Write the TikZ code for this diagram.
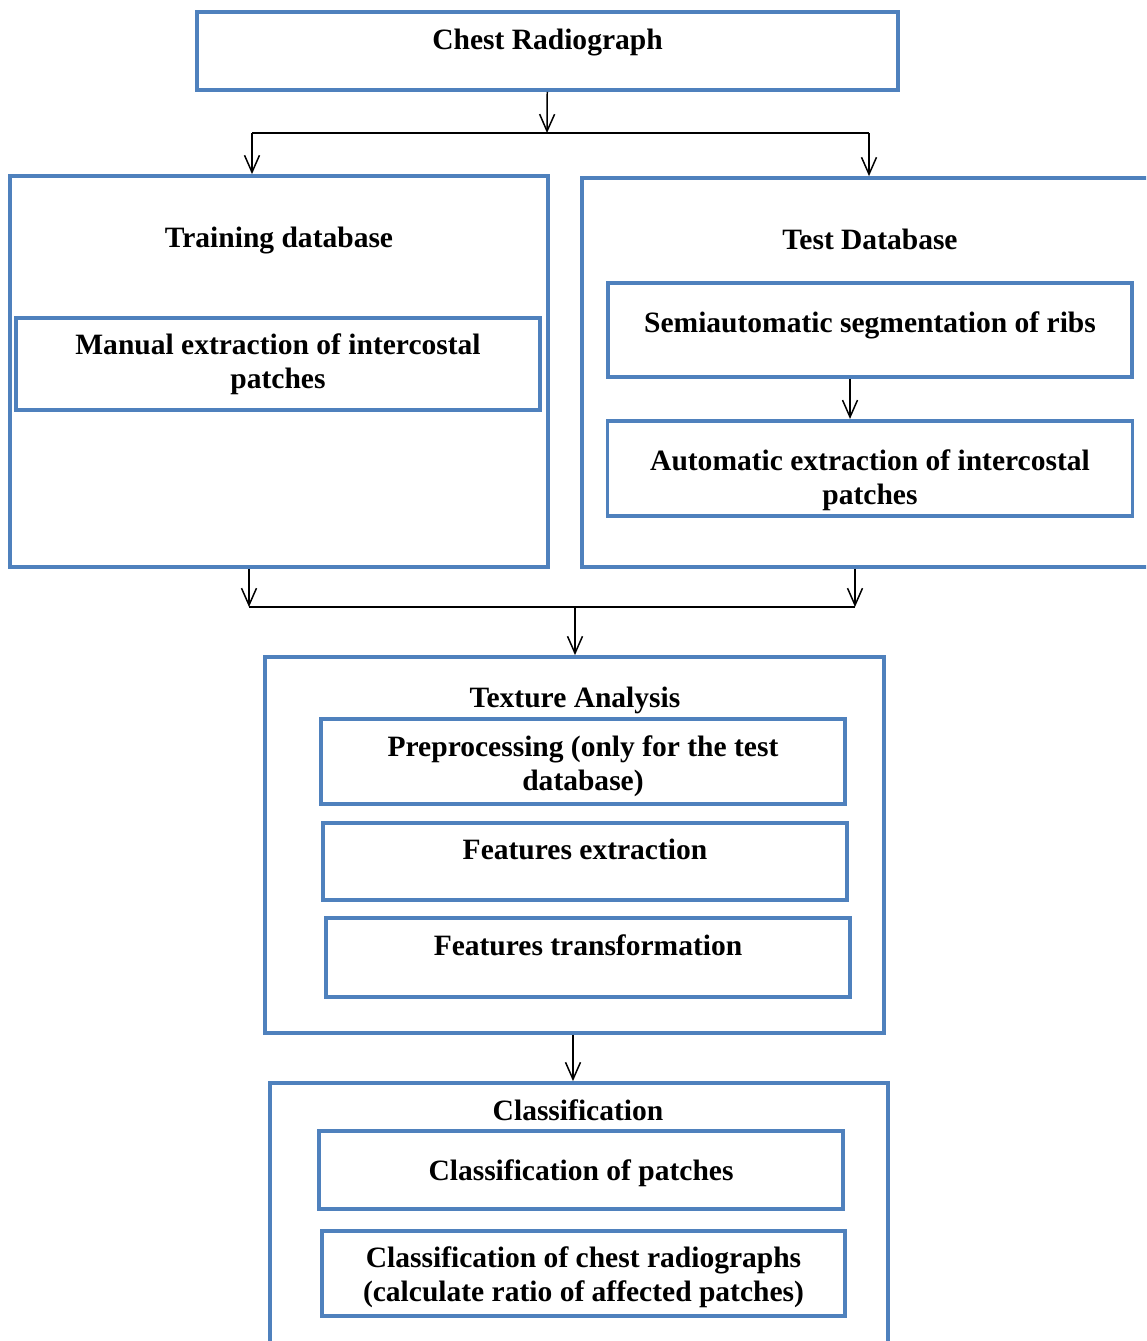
\documentclass[tikz,border=0pt]{standalone}
\usepackage{fontspec}
\setmainfont{Liberation Serif}
\usetikzlibrary{arrows.meta,positioning}
\definecolor{boxblue}{RGB}{79,129,189}

\begin{document}
\begin{tikzpicture}[
  x=0.02cm, y=-0.02cm,
  font=\bfseries\fontsize{16.8}{19.3}\selectfont,
  frame/.style={draw=boxblue, line width=2.2pt, inner sep=0pt},
  box/.style={draw=boxblue, line width=2.2pt, align=center, inner sep=0pt, minimum width=10.48cm},
  lift/.style={text height=11.5pt, text depth=#1},
  drop/.style={text height=#1},
  title/.style={inner sep=0pt},
  arr/.style={-{Straight Barb[length=0.34cm,width=0.3cm]}, line width=0.85pt},
  link/.style={line width=0.85pt}
]
\useasboundingbox (0,0) rectangle (1146,1341);
\clip (0,0) rectangle (1146,1341);

\node[box, minimum width=14.02cm, minimum height=1.56cm, lift=13.5pt] (chest) at (547.5,51) {Chest Radiograph};

\node[frame, minimum width=10.76cm, minimum height=7.82cm] (train) at (279,371.5) {};
\node[title] (traintitle) at (279,241) {Training database};
\node[box, minimum height=1.84cm] (manual) at (278,364) {Manual extraction of intercostal\\patches};

\node[frame, minimum width=11.56cm, minimum height=7.78cm] (test) at (871,372.5) {};
\node[title] (testtitle) at (870,239) {Test Database};
\node[box, minimum height=1.88cm, lift=9pt] (semi) at (870,330) {Semiautomatic segmentation of ribs};
\node[box, minimum width=10.5cm, minimum height=1.9cm, drop=45pt, below=0.8cm of semi] (auto) {Automatic extraction of intercostal\\patches};

\node[frame, minimum width=12.38cm, minimum height=7.52cm] (texture) at (574.5,845) {};
\node[title] (texturetitle) at (575,700) {Texture Analysis};
\node[box, minimum height=1.7cm, drop=36.4pt] (prep) at (583,761.5) {Preprocessing (only for the test\\database)};
\node[box, minimum height=1.54cm, lift=13.5pt, below=0.30cm of prep, xshift=0.04cm] (featex) {Features extraction};
\node[box, minimum height=1.58cm, lift=13.5pt, below=0.28cm of featex, xshift=0.06cm] (feattr) {Features transformation};

\node[frame, minimum width=12.36cm, minimum height=5.54cm] (class) at (579,1221.5) {};
\node[title] (classtitle) at (578,1110) {Classification};
\node[box, minimum height=1.56cm, drop=16pt] (clspatch) at (581,1170) {Classification of patches};
\node[box, minimum width=10.46cm, minimum height=1.7cm, drop=35.9pt, below=0.36cm of clspatch, xshift=0.05cm] (clschest) {Classification of chest radiographs\\(calculate ratio of affected patches)};

\coordinate (split) at (547,133);
\coordinate (splitl) at (252,133);
\coordinate (splitr) at (869,133);
\coordinate (joinl) at (249,607);
\coordinate (joinr) at (855,607);
\coordinate (join) at (575,607);

\draw[arr] (chest) -- (split);
\draw[link] (splitl) -- (splitr);
\draw[arr] (splitl) -- (splitl |- train.north);
\draw[arr] (splitr) -- (splitr |- test.north);
\draw[arr] ([xshift=-0.4cm]semi.south) -- ([xshift=-0.4cm]semi.south |- auto.north);
\draw[arr] (joinl |- train.south) -- (joinl);
\draw[arr] (joinr |- test.south) -- (joinr);
\draw[link] (joinl) -- (joinr);
\draw[arr] (join) -- (join |- texture.north);
\draw[arr] ([xshift=-0.03cm]texture.south) -- ([xshift=-0.03cm]texture.south |- class.north);
\end{tikzpicture}
\end{document}
